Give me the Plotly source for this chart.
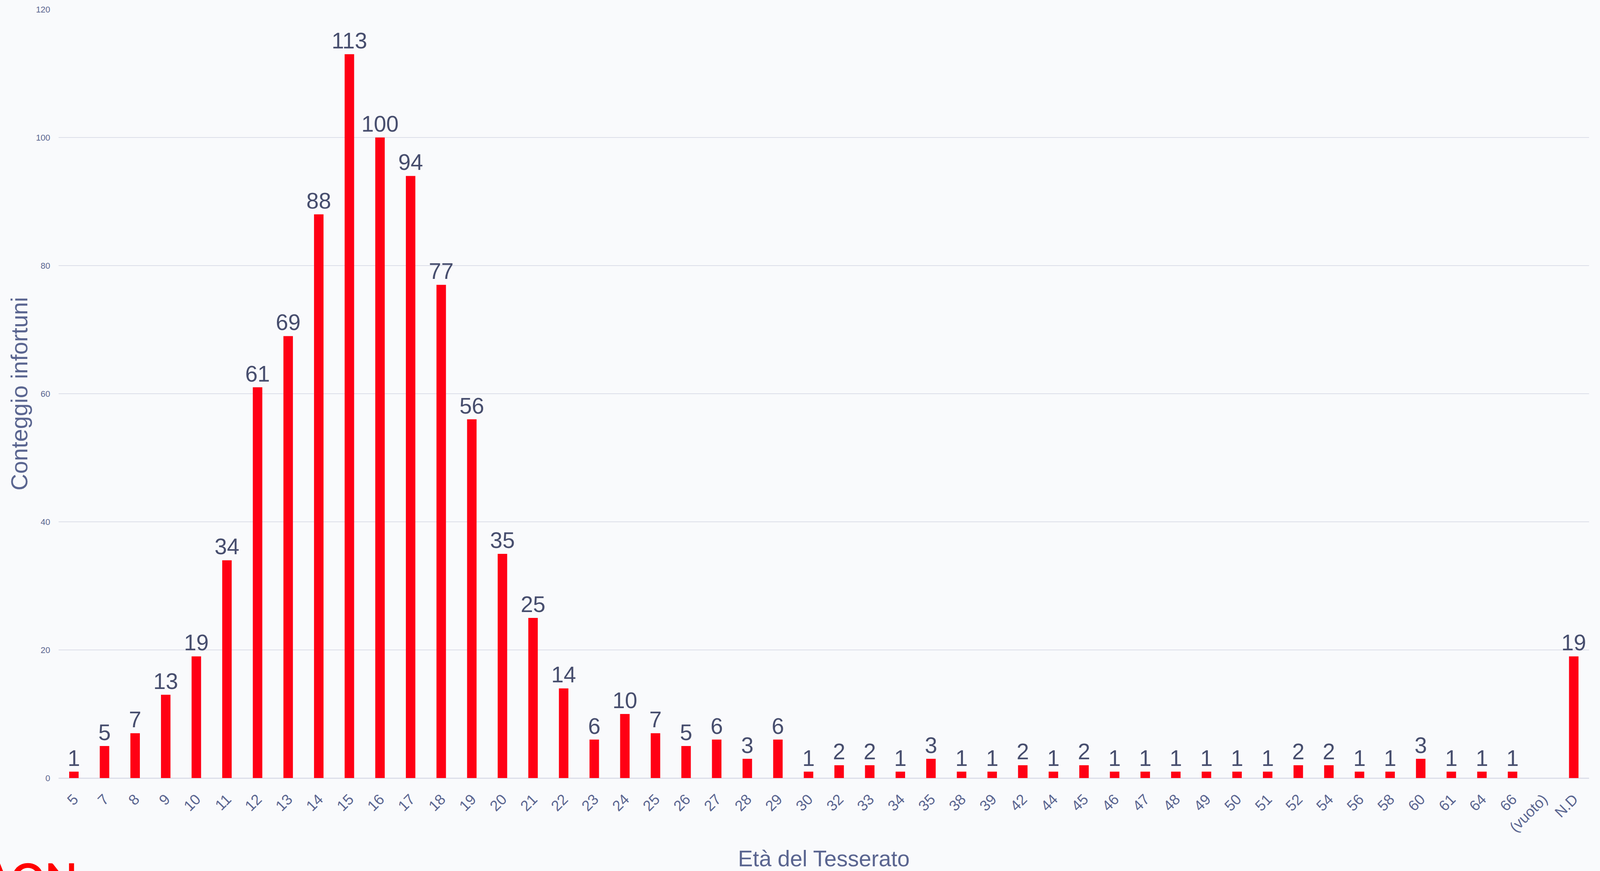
import plotly.graph_objects as go

categories = ["5", "7", "8", "9", "10", "11", "12", "13", "14", "15", "16", "17", "18", "19",
              "20", "21", "22", "23", "24", "25", "26", "27", "28", "29", "30", "32", "33", "34",
              "35", "38", "39", "42", "44", "45", "46", "47", "48", "49", "50", "51", "52", "54",
              "56", "58", "60", "61", "64", "66", "(vuoto)", "N.D"]
counts = [1, 5, 7, 13, 19, 34, 61, 69, 88, 113, 100, 94, 77, 56,
          35, 25, 14, 6, 10, 7, 5, 6, 3, 6, 1, 2, 2, 1,
          3, 1, 1, 2, 1, 2, 1, 1, 1, 1, 1, 1, 2, 2,
          1, 1, 3, 1, 1, 1, None, 19]

x_title = "Età del Tesserato"
y_title = "Conteggio infortuni"
y_ticks = [0, 20, 40, 60, 80, 100, 120]

FONT = "Liberation Sans, Arial, Helvetica, sans-serif"
BG = "#f9fafc"
GRID = "#dcdee9"
TICK_COLOR = "#5a6590"
LABEL_COLOR = "#474e6e"
RED = "#ff0014"

fig = go.Figure(
    go.Bar(
        x=categories,
        y=counts,
        marker=dict(color=RED, line=dict(width=0)),
        texttemplate="%{y}",
        textposition="outside",
        textfont=dict(size=57, color=LABEL_COLOR, family=FONT),
        cliponaxis=False,
        constraintext="none",
    )
)

fig.update_layout(
    autosize=True,
    margin=dict(l=150, r=28, t=22, b=160),
    paper_bgcolor=BG,
    plot_bgcolor=BG,
    bargap=0.69,
    showlegend=False,
    font=dict(family=FONT, color=TICK_COLOR),
)

fig.update_xaxes(
    type="category",
    tickangle=-45,
    tickfont=dict(size=38, color=TICK_COLOR, family=FONT),
    ticks="outside",
    ticklen=16,
    tickcolor="rgba(0,0,0,0)",
    showgrid=False,
    showline=False,
    title=dict(text=x_title, font=dict(size=57, color=TICK_COLOR, family=FONT), standoff=40),
)

fig.update_yaxes(
    range=[0, 120],
    tickvals=y_ticks,
    tickfont=dict(size=22, color=TICK_COLOR, family=FONT),
    ticks="outside",
    ticklen=16,
    tickcolor="rgba(0,0,0,0)",
    gridcolor=GRID,
    gridwidth=2,
    zeroline=True,
    zerolinecolor=GRID,
    zerolinewidth=3,
    showline=False,
    title=dict(text=y_title, font=dict(size=59, color=TICK_COLOR, family=FONT), standoff=2),
)

fig.add_annotation(
    text="<b>AON</b>",
    xref="paper", yref="paper",
    x=-0.0, y=-0.095,
    xanchor="right", yanchor="top",
    xshift=-150 + 200,
    showarrow=False,
    font=dict(size=108, color="#ff0000", family="Lato, Liberation Sans, sans-serif"),
)

post = """
var gd = document.getElementById('{plot_id}');
document.documentElement.style.margin = '0';
document.documentElement.style.height = '100%';
document.documentElement.style.background = '#f9fafc';
document.body.style.margin = '0';
document.body.style.height = '100%';
document.body.style.overflow = 'hidden';
document.body.style.background = '#f9fafc';
if (gd.parentElement) { gd.parentElement.style.height = '100%'; }
gd.style.height = '100%';
gd.style.width = '100%';
Plotly.Plots.resize(gd);
"""

fig.write_html("out.html", default_width="100%", default_height="100%",
               post_script=post, config={"displayModeBar": False})
